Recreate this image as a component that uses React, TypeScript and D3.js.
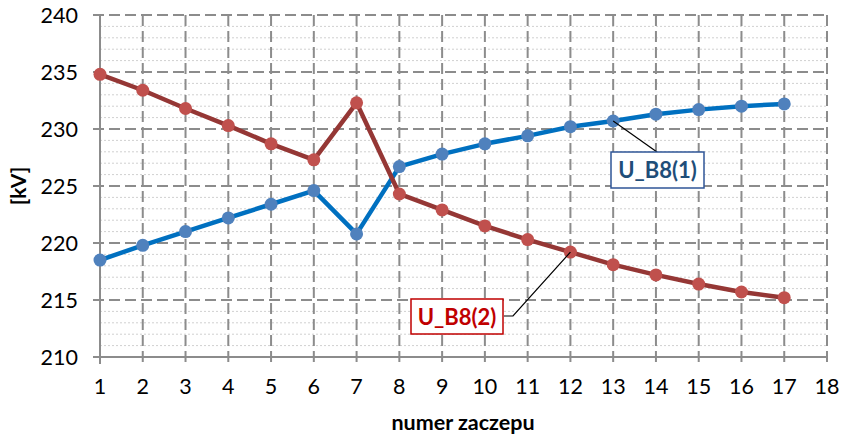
import React, { useEffect, useRef } from 'react';
import * as d3 from 'd3';

// numer zaczepu 1..17
const taps = [1, 2, 3, 4, 5, 6, 7, 8, 9, 10, 11, 12, 13, 14, 15, 16, 17];
const uB8_1 = [218.5, 219.8, 221.0, 222.2, 223.4, 224.6, 220.8, 226.7, 227.8, 228.7, 229.4, 230.2, 230.7, 231.3, 231.7, 232.0, 232.2];
const uB8_2 = [234.8, 233.4, 231.8, 230.3, 228.7, 227.3, 232.3, 224.3, 222.9, 221.5, 220.3, 219.2, 218.1, 217.2, 216.4, 215.7, 215.2];
const xTicks = d3.range(1, 19);
const yTicks = [210, 215, 220, 225, 230, 235, 240];
const yMinor = d3.range(210, 241, 1);

const FONT = 'Lato, "Open Sans", sans-serif';

const App = () => {
  const ref = useRef<SVGSVGElement>(null);

  useEffect(() => {
    const svg = d3.select(ref.current);
    svg.selectAll('*').remove();

    const x = d3.scaleLinear().domain([1, 18]).range([100, 827]);
    const y = d3.scaleLinear().domain([210, 240]).range([357, 15]);

    // minor grid (dotted)
    svg.append('g')
      .selectAll('line')
      .data(yMinor.filter(v => v % 5 !== 0))
      .enter()
      .append('line')
      .attr('x1', x(1)).attr('x2', x(18))
      .attr('y1', d => y(d)).attr('y2', d => y(d))
      .attr('stroke', '#d0d0d0')
      .attr('stroke-width', 1)
      .attr('stroke-dasharray', '2,2');

    // major horizontal grid (dashed), extends left as tick
    svg.append('g')
      .selectAll('line')
      .data(yTicks.filter(v => v !== 210))
      .enter()
      .append('line')
      .attr('x1', x(1) - 7).attr('x2', x(18))
      .attr('y1', d => y(d)).attr('y2', d => y(d))
      .attr('stroke', '#8c8c8c')
      .attr('stroke-width', 2)
      .attr('stroke-dasharray', '11,5');

    // vertical grid (dashed), extends down as tick
    svg.append('g')
      .selectAll('line')
      .data(xTicks.filter(v => v !== 1))
      .enter()
      .append('line')
      .attr('x1', d => x(d)).attr('x2', d => x(d))
      .attr('y1', y(240)).attr('y2', y(210) + 7)
      .attr('stroke', '#8c8c8c')
      .attr('stroke-width', 2)
      .attr('stroke-dasharray', '11,5');

    // axes
    svg.append('line')
      .attr('x1', x(1)).attr('x2', x(1))
      .attr('y1', y(240)).attr('y2', y(210) + 7)
      .attr('stroke', '#8c8c8c').attr('stroke-width', 2);
    svg.append('line')
      .attr('x1', x(1) - 7).attr('x2', x(18))
      .attr('y1', y(210)).attr('y2', y(210))
      .attr('stroke', '#8c8c8c').attr('stroke-width', 2);

    // tick labels
    svg.append('g')
      .selectAll('text')
      .data(yTicks)
      .enter()
      .append('text')
      .attr('x', 78)
      .attr('y', d => y(d) + 7.5)
      .attr('text-anchor', 'end')
      .style('font-family', FONT)
      .style('font-size', '21.5px')
      .attr('fill', '#000')
      .text(d => d);

    svg.append('g')
      .selectAll('text')
      .data(xTicks)
      .enter()
      .append('text')
      .attr('x', d => x(d))
      .attr('y', 394)
      .attr('text-anchor', 'middle')
      .style('font-family', FONT)
      .style('font-size', '21.5px')
      .attr('fill', '#000')
      .text(d => d);

    // axis titles
    svg.append('text')
      .attr('transform', `translate(26,186) rotate(-90)`)
      .attr('text-anchor', 'middle')
      .style('font-family', FONT)
      .style('font-size', '21px')
      .style('font-weight', 'bold')
      .text('[kV]');
    svg.append('text')
      .attr('x', 463)
      .attr('y', 430)
      .attr('text-anchor', 'middle')
      .style('font-family', FONT)
      .style('font-size', '21.5px')
      .style('font-weight', 'bold')
      .text('numer zaczepu');

    const line = d3.line<number>()
      .x((_, i) => x(taps[i]))
      .y(d => y(d));

    const series = [
      { values: uB8_1, stroke: '#0070c0', fill: '#4f81bd' },
      { values: uB8_2, stroke: '#953735', fill: '#c0504d' },
    ];

    series.forEach(s => {
      svg.append('path')
        .datum(s.values)
        .attr('d', line)
        .attr('fill', 'none')
        .attr('stroke', s.stroke)
        .attr('stroke-width', 4.5)
        .attr('stroke-linejoin', 'round');
      svg.append('g')
        .selectAll('circle')
        .data(s.values)
        .enter()
        .append('circle')
        .attr('cx', (_, i) => x(taps[i]))
        .attr('cy', d => y(d))
        .attr('r', 6.5)
        .attr('fill', s.fill);
    });

    // data labels with leader lines
    const labels = [
      { text: 'U_B8(1)', idx: 12, values: uB8_1, color: '#1f4e79', border: '#2f5597', bx: 611, by: 152, bw: 93, bh: 36, path: (px: number, py: number) => `M${px},${py}L657,152` },
      { text: 'U_B8(2)', idx: 11, values: uB8_2, color: '#c00000', border: '#c00000', bx: 411, by: 299, bw: 92, bh: 35, path: (px: number, py: number) => `M${px},${py}L513,316L504,316` },
    ];
    labels.forEach(l => {
      const px = x(taps[l.idx]);
      const py = y(l.values[l.idx]);
      svg.append('path')
        .attr('d', l.path(px, py))
        .attr('fill', 'none')
        .attr('stroke', '#000')
        .attr('stroke-width', 1.2);
      svg.append('rect')
        .attr('x', l.bx).attr('y', l.by)
        .attr('width', l.bw).attr('height', l.bh)
        .attr('fill', '#fff')
        .attr('stroke', l.border)
        .attr('stroke-width', 1.5);
      svg.append('text')
        .attr('x', l.bx + l.bw / 2)
        .attr('y', l.by + l.bh / 2 + 8)
        .attr('text-anchor', 'middle')
        .style('font-family', FONT)
        .style('font-size', '22px')
        .style('font-weight', 'bold')
        .attr('fill', l.color)
        .text(l.text);
    });
  }, []);

  return (
    <svg ref={ref} width={841} height={436} style={{ position: 'absolute', left: 0, top: 0, background: '#fff' }}></svg>
  );
};

export default App;
